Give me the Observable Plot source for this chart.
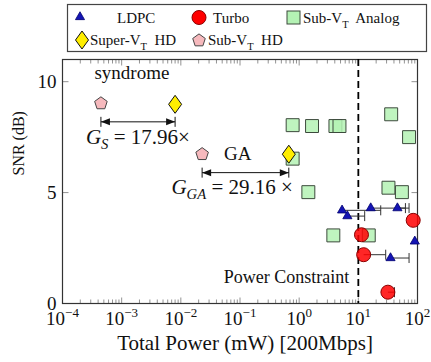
<!DOCTYPE html>
<html><head><meta charset="utf-8">
<script src="https://cdn.jsdelivr.net/npm/d3@7"></script>
<script src="https://cdn.jsdelivr.net/npm/@observablehq/plot@0.6"></script>
<style>
body{margin:0;background:#fff;}
#chart{width:431px;height:362px;}
#chart svg text, #chart svg tspan{font-family:"Liberation Serif","Times New Roman",serif !important;}
</style></head><body><div id="chart"></div>
<script>
// ---------- data ----------
const ldpcPower    = [5.31, 6.53, 16.2, 45.8, 90, 35];
const ldpcSNR      = [4.2, 3.94, 4.3, 4.3, 2.8, 2.05];
const ldpcPowerMax = [23.9, 12.8, 72, 62.5, null, 72];

const turboPower    = [84.6, 11.3, 12.3, 31.6];
const turboSNR      = [3.75, 3.1, 2.2, 0.51];
const turboPowerMax = [null, null, 29, 40.8];

const analogPower = [0.776, 1.65, 4.1, 4.8, 0.776, 1.43, 35.9, 72, 32.3, 54.5, 3.78, 15];
const analogSNR   = [8.04, 8.0, 8.0, 8.0, 6.53, 5.02, 8.53, 7.5, 5.22, 5.02, 3.07, 3.07];

const superPower = [0.0080, 0.668];
const superSNR   = [8.98, 6.73];

const subHdPower = [4.46e-4, 0.0229];
const subHdSNR   = [9.02, 6.73];

const gainSNR = [8.19, 5.9];

const annotText   = ["syndrome", "GA", "G_S = 17.96×", "G_GA = 29.16 ×", "Power Constraint"];
const annotPower  = [1.49e-3, 0.0912, 1.88e-3, 0.0736, 7.05];
const annotSNR    = [10.39, 6.73, 7.51, 5.26, 1.165];
const annotAnchor = ["middle", "middle", "middle", "middle", "end"];
const annotSize   = [19, 19, 21, 21, 18];

const powerConstraint = 10;
const xTicks = [1e-4, 1e-3, 1e-2, 1e-1, 1, 10, 100];
const yTicks = [0, 5, 10];
const xMinorTicks = d3.range(-4, 2).flatMap(e => d3.range(2, 10).map(m => m * 10 ** e));
const xLabel = "Total Power (mW) [200Mbps]";
const yLabel = "SNR (dB)";

// ---------- tables ----------
const ldpc = ldpcPower.map((p, i) => ({p, s: ldpcSNR[i], pm: ldpcPowerMax[i]}));
const turbo = turboPower.map((p, i) => ({p, s: turboSNR[i], pm: turboPowerMax[i]}));
const analog = analogPower.map((p, i) => ({p, s: analogSNR[i]}));
const superHd = superPower.map((p, i) => ({p, s: superSNR[i]}));
const subHd = subHdPower.map((p, i) => ({p, s: subHdSNR[i]}));
const gains = subHdPower.map((p, i) => ({from: p, to: superPower[i], s: gainSNR[i]}));
const annots = annotText.map((t, i) => ({t, p: annotPower[i], s: annotSNR[i], a: annotAnchor[i], f: annotSize[i]}));

// ---------- symbols ----------
const diamondSym = {draw(c){c.moveTo(0,-9);c.lineTo(6.5,0);c.lineTo(0,9);c.lineTo(-6.5,0);c.closePath();}};
const pentSym = {draw(c){const R=6.6;for(let i=0;i<5;i++){const a=(-90+72*i)*Math.PI/180;const x=R*Math.cos(a),y=R*Math.sin(a);i?c.lineTo(x,y):c.moveTo(x,y);}c.closePath();}};
const vbar = {draw(c){c.moveTo(0,-5);c.lineTo(0,5);}};
const headL = {draw(c){c.moveTo(0,0);c.lineTo(9,-3.5);c.lineTo(9,3.5);c.closePath();}};
const headR = {draw(c){c.moveTo(0,0);c.lineTo(-9,-3.5);c.lineTo(-9,3.5);c.closePath();}};
const tk = (dx, dy) => ({draw(c){c.moveTo(0,0);c.lineTo(dx,dy);}});

const FONT = '"Liberation Serif", "Times New Roman", serif';
const tickCol = "#777";
const svg = Plot.plot({
  width: 431, height: 362,
  marginTop: 59, marginBottom: 59, marginLeft: 62, marginRight: 14,
  style: {fontFamily: FONT, fontSize: "19px", color: "#111", background: "#fff"},
  x: {type: "log", domain: [1e-4, 1e2], axis: null},
  y: {domain: [0, 11], axis: null},
  marks: [
    // axis tick marks (inside)
    Plot.dot(xTicks, {x: d => d, y: d => 0, symbol: tk(0, -6), stroke: tickCol, fill: "none", strokeWidth: 0.8}),
    Plot.dot(xMinorTicks, {x: d => d, y: d => 0, symbol: tk(0, -4), stroke: tickCol, fill: "none", strokeWidth: 0.8}),
    Plot.dot(xTicks, {x: d => d, y: d => 11, symbol: tk(0, 6), stroke: tickCol, fill: "none", strokeWidth: 0.8}),
    Plot.dot(xMinorTicks, {x: d => d, y: d => 11, symbol: tk(0, 4), stroke: tickCol, fill: "none", strokeWidth: 0.8}),
    Plot.dot(yTicks, {x: d => 1e-4, y: d => d, symbol: tk(6, 0), stroke: tickCol, fill: "none", strokeWidth: 0.8}),
    Plot.dot(yTicks, {x: d => 1e2, y: d => d, symbol: tk(-6, 0), stroke: tickCol, fill: "none", strokeWidth: 0.8}),
    Plot.frame({stroke: "#333", strokeWidth: 1.2}),
    Plot.ruleX([powerConstraint], {stroke: "#000", strokeWidth: 1.8, strokeDasharray: "7,4"}),
    // analog squares
    Plot.dot(analog, {x: "p", y: "s", symbol: "square", r: 7.3, fill: "#b4f2b4", fillOpacity: 0.85, stroke: "#3c4a3c", strokeWidth: 1}),
    // gain arrows
    Plot.link(gains, {x1: "from", x2: "to", y1: "s", y2: "s", stroke: "#111", strokeWidth: 1}),
    Plot.dot(gains, {x: "from", y: "s", symbol: headL, fill: "#111", stroke: "none"}),
    Plot.dot(gains, {x: "to", y: "s", symbol: headR, fill: "#111", stroke: "none"}),
    Plot.dot(gains, {x: "from", y: "s", symbol: vbar, fill: "none", stroke: "#111", strokeWidth: 1}),
    Plot.dot(gains, {x: "to", y: "s", symbol: vbar, fill: "none", stroke: "#111", strokeWidth: 1}),
    // HD markers
    Plot.dot(subHd, {x: "p", y: "s", symbol: pentSym, fill: "#f6b9bd", stroke: "#444", strokeWidth: 1}),
    Plot.dot(superHd, {x: "p", y: "s", symbol: diamondSym, fill: "#ffee00", stroke: "#111", strokeWidth: 1}),
    // error bars
    Plot.link(ldpc.filter(d => d.pm), {x1: "p", x2: "pm", y1: "s", y2: "s", stroke: "#333", strokeWidth: 1}),
    Plot.dot(ldpc.filter(d => d.pm), {x: "pm", y: "s", symbol: vbar, fill: "none", stroke: "#333", strokeWidth: 1}),
    Plot.link(turbo.filter(d => d.pm), {x1: "p", x2: "pm", y1: "s", y2: "s", stroke: "#333", strokeWidth: 1}),
    Plot.dot(turbo.filter(d => d.pm), {x: "pm", y: "s", symbol: vbar, fill: "none", stroke: "#333", strokeWidth: 1}),
    // LDPC & Turbo
    Plot.dot(ldpc, {x: "p", y: "s", symbol: "triangle", r: 3.4, fill: "#1414b4", stroke: "#00006e", strokeWidth: 0.8}),
    Plot.dot(turbo, {x: "p", y: "s", r: 7, fill: "#ff0000", fillOpacity: 0.85, stroke: "#8b0000", strokeWidth: 1}),
    // annotations
    Plot.text(annots.filter(d => d.a === "middle"), {x: "p", y: "s", text: "t", textAnchor: "middle", fontSize: "f", fill: "#111"}),
    Plot.text(annots.filter(d => d.a === "end"), {x: "p", y: "s", text: "t", textAnchor: "end", fontSize: "f", fill: "#111"}),
    // axes
    Plot.axisX({ticks: xTicks, tickFormat: d => "10^" + Math.round(Math.log10(d)), tickSize: 0, tickPadding: 8, fontSize: 19, label: null}),
    Plot.axisY({ticks: yTicks, tickSize: 0, tickPadding: 6, fontSize: 19, label: null}),
    Plot.text([xLabel], {frameAnchor: "bottom", text: d => d, dy: 46, dx: 5, fontSize: 21, fill: "#111"}),
    Plot.text([yLabel], {frameAnchor: "left", text: d => d, rotate: -90, dx: -44, dy: -6, fontSize: 16, fill: "#111"})
  ]
});

// ---------- rich text (sub/superscripts, italics) ----------
const NS = "http://www.w3.org/2000/svg";
function rich(el, parts){
  el.textContent = "";
  let shift = 0;
  for (const p of parts){
    const ts = document.createElementNS(NS, "tspan");
    const target = p.sup ? -8 : p.sub ? 5 : 0;
    if (target !== shift) ts.setAttribute("dy", target - shift);
    shift = target;
    if (p.sup || p.sub) ts.setAttribute("font-size", p.size || "70%");
    if (p.i) ts.setAttribute("font-style", "italic");
    ts.textContent = p.t;
    el.appendChild(ts);
  }
}
const richMap = {
  "G_S = 17.96×": [{t: "G", i: 1}, {t: "S", i: 1, sub: 1}, {t: " = 17.96×"}],
  "G_GA = 29.16 ×": [{t: "G", i: 1}, {t: "GA", i: 1, sub: 1}, {t: " = 29.16 ×"}]
};
d3.select(svg).selectAll("text").each(function(){
  const s = this.textContent;
  if (richMap[s]) rich(this, richMap[s]);
  else if (/^10\^-?\d+$/.test(s)) {
    const e = s.slice(3).replace("-", "−");
    rich(this, [{t: "10"}, {t: e, sup: 1, size: "13px"}]);
  }
});

// ---------- legend ----------
const lg = d3.select(svg).append("g").attr("font-size", 15).attr("fill", "#111").attr("text-anchor", "start").style("font-size", "15px");
lg.append("rect").attr("x", 67.5).attr("y", 4.5).attr("width", 359).attr("height", 47).attr("fill", "#fff").attr("stroke", "#444").attr("stroke-width", 1.2);
const sym = (type, size) => d3.symbol().type(type).size(size)();
lg.append("path").attr("d", sym(d3.symbolTriangle, 36)).attr("transform", "translate(80,17)").attr("fill", "#1414b4").attr("stroke", "#00006e").attr("stroke-width", 0.8);
lg.append("circle").attr("cx", 199).attr("cy", 17.5).attr("r", 7).attr("fill", "#ff0000").attr("stroke", "#8b0000");
lg.append("rect").attr("x", 287).attr("y", 11).attr("width", 13).attr("height", 13).attr("fill", "#b4f2b4").attr("stroke", "#3c4a3c");
lg.append("path").attr("d", sym(diamondSym, 1)).attr("transform", "translate(82,40)").attr("fill", "#ffee00").attr("stroke", "#111");
lg.append("path").attr("d", sym(pentSym, 1)).attr("transform", "translate(199,40.5)").attr("fill", "#f6b9bd").attr("stroke", "#444");
const legendText = [
  {x: 117, y: 23, parts: [{t: "LDPC"}]},
  {x: 213, y: 23, parts: [{t: "Turbo"}]},
  {x: 303, y: 23, parts: [{t: "Sub-V"}, {t: "T", sub: 1}, {t: "  Analog"}]},
  {x: 90, y: 45, parts: [{t: "Super-V"}, {t: "T", sub: 1}, {t: "  HD"}]},
  {x: 208, y: 45, parts: [{t: "Sub-V"}, {t: "T", sub: 1}, {t: "  HD"}]}
];
for (const lt of legendText){
  const t = lg.append("text").attr("x", lt.x).attr("y", lt.y).attr("text-anchor", "start").style("white-space", "pre");
  rich(t.node(), lt.parts);
}
document.getElementById("chart").appendChild(svg);
</script>
</body></html>
